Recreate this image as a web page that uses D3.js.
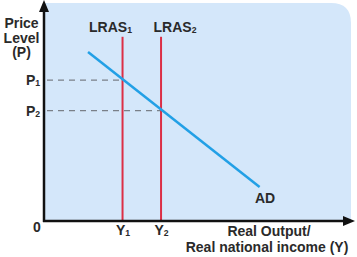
<!DOCTYPE html>
<html>
<head>
<meta charset="utf-8">
<script src="https://cdn.jsdelivr.net/npm/d3@7"></script>
<style>
  body { margin: 0; background: #fff; }
  text { font-family: "Liberation Sans", Arial, sans-serif; font-weight: bold; fill: #2a2a2a; }
</style>
</head>
<body>
<div id="chart"></div>
<script>
const width = 357;
const height = 257;
const fontSize = 14;

// long-run aggregate supply positions (output units)
const lrasNames = ['LRAS', 'LRAS'];
const lrasSubs = ['1', '2'];
const lrasOutput = [25.5, 38];
const lrasTop = 84.5;

// aggregate demand line, two end points [output, price]
const adPoints = [[14.3, 77.5], [70, 15.6]];

// price levels where AD meets each LRAS
const priceLabels = ['P', 'P'];
const priceLevels = [64.6, 50.6];

// label nudges for the LRAS titles (px from the line)
const lrasLabelShift = [-12, 14];

const x = d3.scaleLinear().domain([0, 100]).range([44, 352]);
const y = d3.scaleLinear().domain([0, 100]).range([221, 3]);

const svg = d3.select('#chart')
  .append('svg')
  .attr('width', width)
  .attr('height', height);

// panel with rounded top-right corner
const r = 20;
const x0 = x(0), x1 = x(100) - 1, y0 = y(0), y1 = y(100);
svg.append('path')
  .attr('d', 'M' + x0 + ',' + y0 + 'V' + y1 + 'H' + (x1 - r)
    + 'Q' + x1 + ',' + y1 + ' ' + x1 + ',' + (y1 + r) + 'V' + y0 + 'Z')
  .attr('fill', '#d4e7fa');

// dashed guides to price levels
svg.selectAll('line.guide')
  .data(priceLevels)
  .enter().append('line')
  .attr('class', 'guide')
  .attr('x1', x(0) + 3)
  .attr('x2', (d, i) => x(lrasOutput[i]))
  .attr('y1', d => y(d))
  .attr('y2', d => y(d))
  .style('stroke', '#7a8088')
  .style('stroke-width', 1.3)
  .style('stroke-dasharray', '6,5');

// LRAS lines
svg.selectAll('line.lras')
  .data(lrasOutput)
  .enter().append('line')
  .attr('class', 'lras')
  .attr('x1', d => x(d))
  .attr('x2', d => x(d))
  .attr('y1', y(lrasTop))
  .attr('y2', y(0))
  .style('stroke', '#dc2f45')
  .style('stroke-width', 2);

// AD line
svg.append('path')
  .datum(adPoints)
  .attr('d', d3.line().x(d => x(d[0])).y(d => y(d[1])))
  .style('stroke', '#22a0e6')
  .style('stroke-width', 2.5)
  .style('fill', 'none');

// axes
svg.append('line')
  .attr('x1', x(0)).attr('x2', x(0))
  .attr('y1', y(0) + 1).attr('y2', 10)
  .style('stroke', '#111').style('stroke-width', 2.5);
svg.append('path')
  .attr('d', 'M' + x(0) + ',0L' + (x(0) - 5) + ',12L' + (x(0) + 5) + ',12Z')
  .attr('fill', '#111');
svg.append('line')
  .attr('x1', x(0) - 1).attr('x2', 346)
  .attr('y1', y(0)).attr('y2', y(0))
  .style('stroke', '#111').style('stroke-width', 2.5);
svg.append('path')
  .attr('d', 'M355,' + y(0) + 'L343,' + (y(0) - 5) + 'L343,' + (y(0) + 5) + 'Z')
  .attr('fill', '#111');

function subLabel(sel, base, sub) {
  sel.append('tspan').text(base);
  sel.append('tspan')
    .attr('dy', '0.15em')
    .style('font-size', (fontSize * 0.62) + 'px')
    .text(sub);
}

// LRAS labels
lrasOutput.forEach(function(d, i) {
  const t = svg.append('text')
    .attr('x', x(d) + lrasLabelShift[i])
    .attr('y', 32)
    .attr('text-anchor', 'middle')
    .style('font-size', fontSize + 'px');
  subLabel(t, lrasNames[i], lrasSubs[i]);
});

// price labels
priceLevels.forEach(function(d, i) {
  const t = svg.append('text')
    .attr('x', 33)
    .attr('y', y(d) + 5)
    .attr('text-anchor', 'middle')
    .style('font-size', fontSize + 'px');
  subLabel(t, priceLabels[i], lrasSubs[i]);
});

// output labels
lrasOutput.forEach(function(d, i) {
  const t = svg.append('text')
    .attr('x', x(d) + 0.5)
    .attr('y', 235)
    .attr('text-anchor', 'middle')
    .style('font-size', fontSize + 'px');
  subLabel(t, 'Y', lrasSubs[i]);
});

svg.append('text')
  .attr('x', 37).attr('y', 232)
  .attr('text-anchor', 'middle')
  .style('font-size', fontSize + 'px')
  .text('0');

svg.append('text')
  .attr('x', x(adPoints[1][0]) + 5.5).attr('y', 203)
  .attr('text-anchor', 'middle')
  .style('font-size', fontSize + 'px')
  .text('AD');

// axis titles
const yTitle = ['Price', 'Level', '(P)'];
svg.selectAll('text.ytitle')
  .data(yTitle)
  .enter().append('text')
  .attr('class', 'ytitle')
  .attr('x', 21.5)
  .attr('y', (d, i) => 28 + i * 14.5)
  .attr('text-anchor', 'middle')
  .style('font-size', fontSize + 'px')
  .text(d => d);

const xTitle = ['Real Output/', 'Real national income (Y)'];
svg.selectAll('text.xtitle')
  .data(xTitle)
  .enter().append('text')
  .attr('class', 'xtitle')
  .attr('x', (d, i) => i ? 267 : 269)
  .attr('y', (d, i) => 235.5 + i * 16)
  .attr('text-anchor', 'middle')
  .style('font-size', fontSize + 'px')
  .text(d => d);
</script>
</body>
</html>
